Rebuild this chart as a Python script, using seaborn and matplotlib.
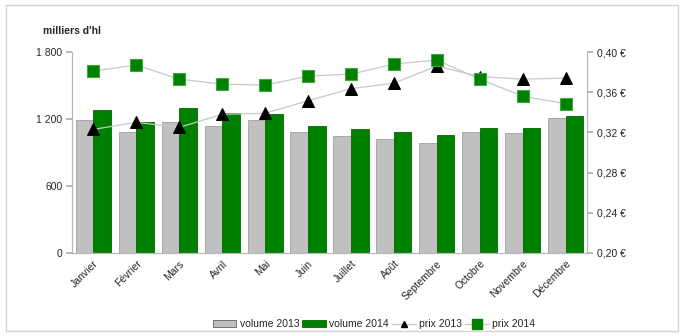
import numpy as np
import pandas as pd
import matplotlib
matplotlib.use("Agg")
import matplotlib.pyplot as plt
from matplotlib.patches import Patch, Rectangle
from matplotlib.lines import Line2D
from matplotlib.ticker import FuncFormatter, FixedLocator
import seaborn as sns

mois = ["Janvier", "Février", "Mars", "Avril", "Mai", "Juin", "Juillet",
        "Août", "Septembre", "Octobre", "Novembre", "Décembre"]
volume_2013 = [1190, 1086, 1173, 1137, 1191, 1081, 1048, 1021, 985, 1081, 1072, 1209]
volume_2014 = [1280, 1170, 1296, 1254, 1242, 1137, 1108, 1084, 1057, 1117, 1117, 1227]
prix_2013 = [0.323, 0.330, 0.325, 0.338, 0.339, 0.3515, 0.3635, 0.369, 0.386, 0.3755, 0.373, 0.374]
prix_2014 = [0.381, 0.387, 0.373, 0.368, 0.367, 0.376, 0.378, 0.388, 0.392, 0.373, 0.356, 0.3486]

sns.set_theme(style="white")
plt.rcParams["font.family"] = ["Liberation Sans", "DejaVu Sans"]

fig = plt.figure(figsize=(6.83, 3.36), dpi=100)
ax = fig.add_axes([72 / 683, 1 - 253 / 336, (587 - 72) / 683, (253 - 52) / 336])

vol = pd.DataFrame({
    "mois": mois * 2,
    "volume": volume_2013 + volume_2014,
    "serie": ["volume 2013"] * 12 + ["volume 2014"] * 12,
})
sns.barplot(data=vol, x="mois", y="volume", hue="serie",
            palette={"volume 2013": "#c0c0c0", "volume 2014": "#008000"},
            width=0.82, ax=ax, legend=False, saturation=1)
for p in ax.patches:
    p.set_edgecolor("#9a9a9a" if p.get_facecolor()[1] < 0.6 and p.get_facecolor()[0] > 0.5 else "#006400")
    p.set_linewidth(0.6)
for p in ax.patches:
    fc = p.get_facecolor()
    p.set_edgecolor("#a0a0a0" if abs(fc[0] - fc[1]) < 0.05 else "#006a00")

ax.set_ylim(0, 1800)
ax.set_xlim(-0.5, 11.5)
ax.yaxis.set_major_locator(FixedLocator([0, 600, 1200, 1800]))
ax.yaxis.set_major_formatter(FuncFormatter(lambda v, _: f"{int(v):,}".replace(",", " ")))
ax.set_xlabel("")
ax.set_ylabel("")
ax.set_xticks(range(12))
ax.set_xticklabels(mois, rotation=45, ha="right", rotation_mode="anchor", fontsize=7.5)
ax.xaxis.set_minor_locator(FixedLocator(np.arange(-0.5, 12, 1)))
ax.tick_params(axis="x", which="major", length=0, pad=4)
ax.tick_params(axis="x", which="minor", length=4, color="#b0b0b0", direction="out")
ax.tick_params(axis="y", length=4, color="#b0b0b0", direction="out", labelsize=7.5, pad=3, left=True)
for s in ["top"]:
    ax.spines[s].set_visible(False)
for s in ["left", "bottom", "right"]:
    ax.spines[s].set_color("#b8b8b8")
    ax.spines[s].set_linewidth(0.8)

ax2 = ax.twinx()
idx = np.arange(12)
sns.lineplot(x=idx, y=prix_2013, ax=ax2, color="#c8c8c8", linewidth=0.9,
             marker="^", markersize=9, markerfacecolor="black", markeredgecolor="black")
sns.lineplot(x=idx, y=prix_2014, ax=ax2, color="#c8c8c8", linewidth=0.9,
             marker="s", markersize=9, markerfacecolor="#008000", markeredgecolor="#3aa83a",
             markeredgewidth=0.8)
ax2.set_ylim(0.20, 0.40)
ax2.set_xlim(-0.5, 11.5)
ax2.yaxis.set_major_locator(FixedLocator([0.20, 0.24, 0.28, 0.32, 0.36, 0.40]))
ax2.yaxis.set_major_formatter(FuncFormatter(lambda v, _: f"{v:.2f} €".replace(".", ",")))
ax2.tick_params(axis="y", length=4, color="#b0b0b0", direction="out", labelsize=7.5, pad=3, right=True)
ax2.set_ylabel("")
ax2.spines["top"].set_visible(False)
for s in ["left", "bottom", "right"]:
    ax2.spines[s].set_color("#b8b8b8")
    ax2.spines[s].set_linewidth(0.8)

fig.text(43 / 683, 1 - 31 / 336, "milliers d'hl", fontsize=7.5, fontweight="bold",
         va="center", ha="left")

handles = [
    Patch(facecolor="#c0c0c0", edgecolor="#606060", linewidth=0.6, label="volume 2013"),
    Patch(facecolor="#008000", edgecolor="#006a00", linewidth=0.6, label="volume 2014"),
    Line2D([], [], color="#c8c8c8", linewidth=0.9, marker="^", markersize=5,
           markerfacecolor="black", markeredgecolor="black", label="prix 2013"),
    Line2D([], [], color="#c8c8c8", linewidth=0.9, marker="s", markersize=7,
           markerfacecolor="#008000", markeredgecolor="#008000", label="prix 2014"),
]
fig.legend(handles=handles, loc="center", bbox_to_anchor=(374 / 683, 1 - 324 / 336),
           ncol=4, frameon=False, fontsize=7.5, handlelength=2.3, handleheight=0.6,
           handletextpad=0.3, columnspacing=0.3, borderaxespad=0)

fig.add_artist(Rectangle((6 / 683, 1 - 331 / 336), 672 / 683, 326 / 336,
                         transform=fig.transFigure, fill=False,
                         edgecolor="#d4d4d4", linewidth=1))

fig.savefig("out.png", dpi=100)
